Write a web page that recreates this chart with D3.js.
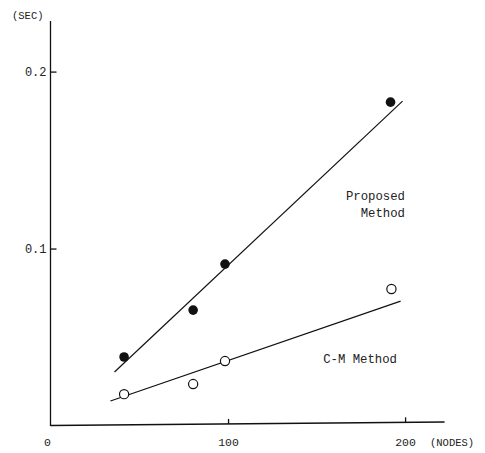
<!DOCTYPE html>
<html><head><meta charset="utf-8">
<script src="https://cdn.jsdelivr.net/npm/d3@7"></script>
<style>body{margin:0;background:#fff}text{font-family:"Liberation Mono","DejaVu Sans Mono",monospace;fill:#222}</style>
</head><body><svg id="c" width="485" height="453"></svg>
<script>
const proposedNodes = [41, 80, 98, 191.5];
const proposedSec = [0.039, 0.0655, 0.0915, 0.183];
const cmNodes = [41, 80, 98, 192];
const cmSec = [0.018, 0.0237, 0.0367, 0.0774];
const proposedFit = [[35.6, 0.0305], [198.3, 0.1836]];
const cmFit = [[33.3, 0.0141], [197.2, 0.0706]];
const xTicks = [0, 100, 200];
const yTicks = [0.1, 0.2];

const svg = d3.select("#c");
const x = d3.scaleLinear().domain([0, 220]).range([51.5, 441]);
const y = d3.scaleLinear().domain([0, 0.23]).range([426, 19]);

// axes
const g = svg.append("g").attr("stroke", "#111").attr("stroke-width", 1.3).attr("fill", "none");
g.append("line").attr("x1", x(0) - 1).attr("x2", x(0) - 1).attr("y1", y(0.23) + 2).attr("y2", y(0));
g.append("line").attr("x1", x(0) - 1).attr("x2", x(222)).attr("y1", y(0) - 0.5).attr("y2", y(0) - 4);
yTicks.forEach(t => g.append("line").attr("x1", x(0) - 1).attr("x2", x(0) + 5).attr("y1", y(t)).attr("y2", y(t)));
xTicks.filter(t => t > 0).forEach(t => g.append("line").attr("x1", x(t)).attr("x2", x(t)).attr("y1", y(0) - 0.5 - (t / 222) * 3.5).attr("y2", y(0) - 5.5 - (t / 222) * 3.5));

yTicks.forEach(t => svg.append("text").attr("x", x(0) - 5).attr("y", y(t) + 4).attr("text-anchor", "end").attr("font-size", 12).text(t.toFixed(1)));
xTicks.forEach(t => svg.append("text").attr("x", x(t) - (t === 0 ? 4 : 0)).attr("y", 446).attr("text-anchor", "middle").attr("font-size", 11.5).text(String(t)));
svg.append("text").attr("x", 12).attr("y", 19).attr("font-size", 10.5).text("(SEC)");
svg.append("text").attr("x", 430).attr("y", 446).attr("font-size", 10.5).text("(NODES)");

// fit lines
const line = d3.line().x(d => x(d[0])).y(d => y(d[1]));
svg.append("path").datum(proposedFit).attr("d", line).attr("stroke", "#111").attr("stroke-width", 1.2).attr("fill", "none");
svg.append("path").datum(cmFit).attr("d", line).attr("stroke", "#111").attr("stroke-width", 1.2).attr("fill", "none");

// points
const pd = proposedNodes.map((n, i) => [n, proposedSec[i]]);
const cd = cmNodes.map((n, i) => [n, cmSec[i]]);
svg.selectAll(".p").data(pd).enter().append("circle").attr("cx", d => x(d[0])).attr("cy", d => y(d[1])).attr("r", 4.8).attr("fill", "#111");
svg.selectAll(".o").data(cd).enter().append("circle").attr("cx", d => x(d[0])).attr("cy", d => y(d[1])).attr("r", 4.6).attr("fill", "#fff").attr("stroke", "#111").attr("stroke-width", 1.2);

// labels
svg.append("text").attr("x", 405).attr("y", 200).attr("text-anchor", "end").attr("font-size", 12.3).text("Proposed");
svg.append("text").attr("x", 405).attr("y", 217).attr("text-anchor", "end").attr("font-size", 12.3).text("Method");
svg.append("text").attr("x", 397).attr("y", 363).attr("text-anchor", "end").attr("font-size", 12.3).text("C-M Method");
</script></body></html>
